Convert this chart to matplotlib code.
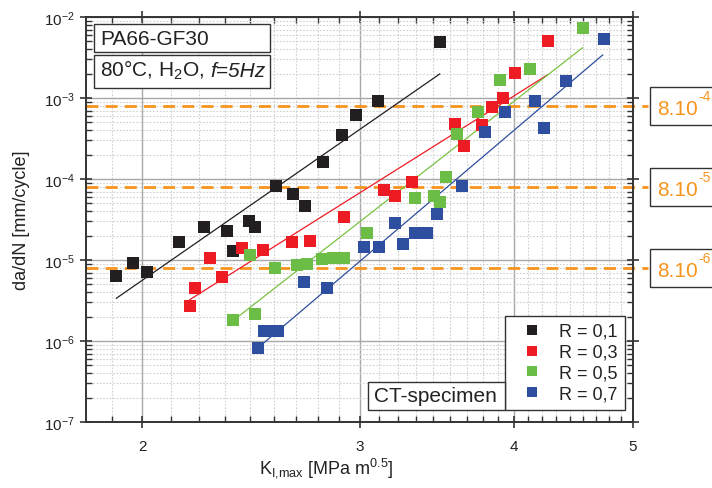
import matplotlib
matplotlib.use("Agg")
import matplotlib.pyplot as plt
import matplotlib.ticker as mticker
from matplotlib.lines import Line2D
from matplotlib.patches import Rectangle
import numpy as np

plt.rcParams['font.family'] = ['Liberation Sans', 'DejaVu Sans']
plt.rcParams['mathtext.fontset'] = 'custom'
plt.rcParams['mathtext.rm'] = 'Liberation Sans'
plt.rcParams['mathtext.it'] = 'Liberation Sans:italic'
plt.rcParams['mathtext.default'] = 'regular'

# --- data ---
k_r01 = [1.905, 1.966, 2.018, 2.142, 2.245, 2.341, 2.369, 2.439, 2.467, 2.566,
         2.648, 2.708, 2.801, 2.904, 2.979, 3.104, 3.485]
da_r01 = [6.4e-6, 9.1e-6, 7.05e-6, 1.65e-5, 2.53e-5, 2.26e-5, 1.28e-5, 3.0e-5, 2.53e-5, 8.1e-5,
          6.5e-5, 4.6e-5, 1.61e-4, 3.47e-4, 6.1e-4, 9.3e-4, 4.96e-3]

k_r03 = [2.185, 2.207, 2.268, 2.320, 2.407, 2.504, 2.643, 2.733, 2.915, 3.141,
         3.204, 3.307, 3.586, 3.644, 3.770, 3.843, 3.920, 4.012, 4.264]
da_r03 = [2.7e-6, 4.48e-6, 1.05e-5, 6.22e-6, 1.41e-5, 1.33e-5, 1.67e-5, 1.70e-5, 3.37e-5, 7.31e-5,
          6.22e-5, 9.27e-5, 4.73e-4, 2.53e-4, 4.64e-4, 7.68e-4, 1.01e-3, 2.04e-3, 5.01e-3]

k_r05 = [2.368, 2.444, 2.467, 2.563, 2.671, 2.718, 2.796, 2.854, 2.915, 3.041,
         3.328, 3.446, 3.485, 3.527, 3.597, 3.745, 3.898, 4.128, 4.551]
da_r05 = [1.83e-6, 1.15e-5, 2.14e-6, 7.9e-6, 8.6e-6, 9.0e-6, 1.02e-5, 1.06e-5, 1.06e-5, 2.14e-5,
          5.78e-5, 6.22e-5, 5.2e-5, 1.05e-4, 3.6e-4, 6.66e-4, 1.65e-3, 2.26e-3, 7.25e-3]

k_r07 = [2.481, 2.508, 2.544, 2.578, 2.705, 2.822, 3.024, 3.113, 3.206, 3.256,
         3.325, 3.401, 3.468, 3.634, 3.789, 3.939, 4.161, 4.232, 4.410, 4.733]
da_r07 = [8.2e-7, 1.34e-6, 1.34e-6, 1.34e-6, 5.3e-6, 4.51e-6, 1.43e-5, 1.44e-5, 2.86e-5, 1.58e-5,
          2.14e-5, 2.14e-5, 3.67e-5, 8.27e-5, 3.84e-4, 6.66e-4, 9.1e-4, 4.26e-4, 1.64e-3, 5.31e-3]

# fit lines (end points)
fit_k_r01, fit_da_r01 = [1.905, 3.485], [3.37e-6, 1.98e-3]
fit_k_r03, fit_da_r03 = [2.185, 4.264], [3.24e-6, 1.94e-3]
fit_k_r05, fit_da_r05 = [2.388, 4.551], [1.96e-6, 4.18e-3]
fit_k_r07, fit_da_r07 = [2.481, 4.725], [8.2e-7, 3.4e-3]

labels = ['R = 0,1', 'R = 0,3', 'R = 0,5', 'R = 0,7']
colors = ['#231f20', '#ed1c24', '#6cbd45', '#2e4f9f']
line_colors = ['#231f20', '#ed1c24', '#7ac143', '#2e4f9f']

thresholds = [8e-4, 8e-5, 8e-6]
threshold_base = ['8.10', '8.10', '8.10']
threshold_exp = ['-4', '-5', '-6']
ORANGE = '#f7941d'

fig = plt.figure(figsize=(7.12, 4.89), dpi=100)
ax = fig.add_axes([86/712, 1-423/489, 547/712, 405/489])
ax.set_xscale('log')
ax.set_yscale('log')
ax.set_xlim(1.80, 5.0)
ax.set_ylim(1e-7, 1e-2)

# grid
ax.xaxis.set_major_locator(mticker.FixedLocator([2, 3, 4, 5]))
ax.xaxis.set_major_formatter(mticker.FixedFormatter(['2', '3', '4', '5']))
xminor = [m + j/9 for m in (1, 2, 3, 4) for j in range(1, 9)]
ax.xaxis.set_minor_locator(mticker.FixedLocator(xminor))
ax.xaxis.set_minor_formatter(mticker.NullFormatter())
ax.yaxis.set_major_locator(mticker.LogLocator(base=10, numticks=10))
ax.yaxis.set_minor_locator(mticker.LogLocator(base=10, subs=np.arange(2, 10), numticks=20))
ax.yaxis.set_minor_formatter(mticker.NullFormatter())

ax.grid(True, which='major', color='#a8a8a8', lw=1.0, ls='-', zorder=0)
ax.grid(True, which='minor', color='#d0d0d0', lw=0.8, ls=(0, (1.5, 1.5)), zorder=0)
ax.set_axisbelow(True)

# thresholds
for t in thresholds:
    ax.axhline(t, xmin=0, xmax=(648-86)/547, color=ORANGE, lw=2, dashes=(4.3, 2.6),
               clip_on=False, zorder=2)

# fit lines
fits = [(fit_k_r01, fit_da_r01), (fit_k_r03, fit_da_r03),
        (fit_k_r05, fit_da_r05), (fit_k_r07, fit_da_r07)]
for (fk, fd), c in zip(fits, line_colors):
    ax.plot(fk, fd, color=c, lw=0.9, zorder=3)

# data
series = [(k_r01, da_r01), (k_r03, da_r03), (k_r05, da_r05), (k_r07, da_r07)]
for (k, d), c, lab in zip(series, colors, labels):
    ax.plot(k, d, ls='none', marker='s', ms=8.6, mfc=c, mec=c, mew=0, zorder=4, label=lab)

# spines / ticks
for s in ax.spines.values():
    s.set_color('#333333')
    s.set_linewidth(1.4)
ax.tick_params(which='major', direction='inout', length=9, width=1.2, colors='#333333',
               top=True, right=True, labelsize=11, labelcolor='#222222')
ax.tick_params(which='minor', direction='in', length=4, width=1.0, colors='#333333',
               top=True, right=True)
ax.tick_params(axis='x', which='major', pad=8)

fig.text(22/712, 1-220/489, 'da/dN [mm/cycle]', rotation=90, ha='center', va='center',
         fontsize=13, color='#222222')
fig.text(326/712, 1-468/489, r'K$_{I{,}max}$ [MPa m$^{0.5}$]', ha='center', va='center',
         fontsize=13, color='#222222')

# info boxes
def box(x0, y0, x1, y1):
    r = Rectangle((x0/712, 1-y1/489), (x1-x0)/712, (y1-y0)/489, transform=fig.transFigure,
                  fc='white', ec='#333333', lw=1.0, zorder=5)
    fig.add_artist(r)

box(94, 25, 270, 53)
fig.text(100/712, 1-39.5/489, 'PA66-GF30', ha='left', va='center', fontsize=15, color='#222222', zorder=6)
box(94, 56, 270, 89)
fig.text(100/712, 1-77/489, r'80°C, H$_2$O,', ha='left', va='baseline',
         fontsize=15, color='#222222', zorder=6)
fig.text(210/712, 1-77/489, 'f=5Hz', ha='left', va='baseline', style='italic',
         fontsize=15, color='#222222', zorder=6)
box(368, 383, 505, 411)
fig.text(374/712, 1-397/489, 'CT-specimen', ha='left', va='center', fontsize=15, color='#222222', zorder=6)

# right threshold labels (the box runs past the right edge, as in the original)
for t, base, ex in zip(thresholds, threshold_base, threshold_exp):
    yc = 18 + (-2 - np.log10(t)) * 81
    box(650, yc - 19, 720, yc + 19)
    fig.text(657.5/712, 1-(yc + 8)/489, base, ha='left', va='baseline', fontsize=15,
             color=ORANGE, zorder=6)
    fig.text(698/712, 1-(yc - 5.5)/489, ex, ha='left', va='baseline', fontsize=10,
             color=ORANGE, zorder=6)

# legend
handles = [Line2D([], [], ls='none', marker='s', ms=7, mfc=c, mec=c, mew=0) for c in colors]
leg = ax.legend(handles, labels, loc='lower right', bbox_to_anchor=(625/712, 1-411/489),
                bbox_transform=fig.transFigure, fontsize=13, frameon=True, fancybox=False,
                edgecolor='#333333', framealpha=1, borderpad=0.4, labelspacing=0.22,
                handlelength=2.2, handletextpad=0.4, borderaxespad=0)
leg.get_frame().set_linewidth(1.0)
for txt in leg.get_texts():
    txt.set_color('#222222')
leg.set_zorder(7)

fig.savefig('out.png', dpi=100)
